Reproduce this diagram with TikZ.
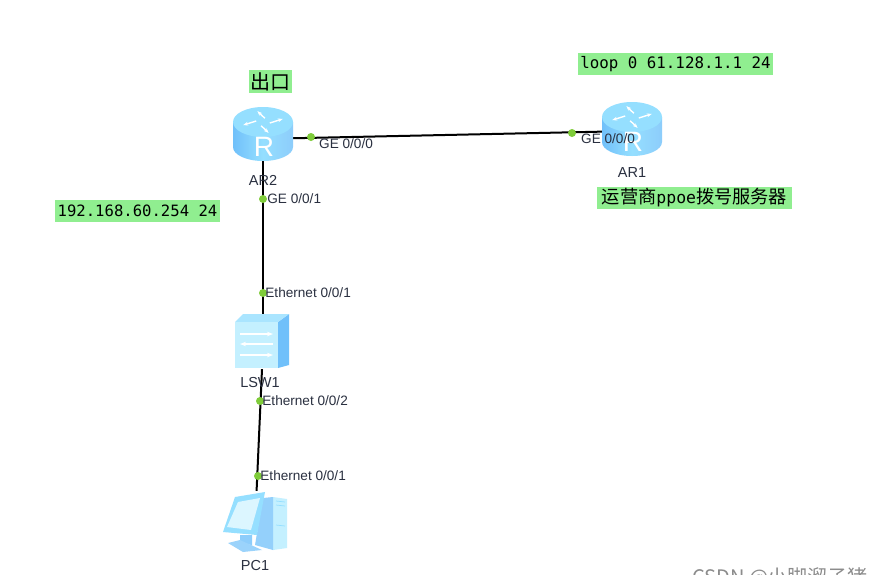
\documentclass[tikz,border=0pt]{standalone}
\usepackage{fontspec}
\usepackage{tikz}
\usepackage{xcolor}
\usetikzlibrary{arrows.meta,positioning}
\setmainfont{Liberation Sans}
\newfontfamily\cjkfont{Noto Sans CJK SC}
\newfontfamily\codefont{DejaVu Sans Mono}

\definecolor{notegreen}{HTML}{90EE90}
\definecolor{portgreen}{HTML}{7FCC3A}
\definecolor{iconlight}{HTML}{C4F0FF}
\definecolor{iconmid}{HTML}{95DFFF}
\definecolor{iconblue}{HTML}{70C0FA}
\definecolor{labelgrey}{HTML}{2A3040}

\tikzset{
    devnode/.style={inner sep=0pt, minimum width=60pt, minimum height=54pt},
    link/.style={black, line width=2pt},
    port/.style={circle, fill=portgreen, inner sep=0pt, minimum size=8pt},
    portlabel/.style={font=\fontsize{13.6}{15}\selectfont, text=labelgrey, inner sep=0pt, anchor=west},
    devlabel/.style={font=\fontsize{14.5}{16}\selectfont, text=labelgrey, inner sep=0pt},
    notebox/.style={fill=notegreen, inner sep=0pt, text=black},
    % Router icon, origin at the centre
    routericon/.pic={
        \path[left color=iconblue, right color=iconblue!80, middle color=iconmid]
            (-30,-12) -- (-30,13) arc[start angle=180, end angle=0, x radius=30, y radius=14]
            -- (30,-12) -- cycle;
        \fill[iconmid] (0,-12) ellipse[x radius=30, y radius=15];
        \foreach \ang in {30,120,210,300}
            \draw[white, line width=1.4pt, -{Stealth[length=5pt]}, shift={(0,-12)}, yscale=0.55, rotate=\ang]
                (5,5) -- (20,5);
        \node[white, font=\fontsize{28}{28}\selectfont, inner sep=0pt] at (1,13) {R};
    },
    % Switch icon
    switchicon/.pic={
        \fill[iconblue] (16,-20) -- (27,-28) -- (27,23) -- (16,26) -- cycle;
        \fill[iconmid!80] (-27,-20) -- (-19,-28) -- (27,-28) -- (16,-20) -- cycle;
        \fill[iconlight] (-27,-20) rectangle (16,26);
        \foreach \yy/\from/\to in {-8/-22/11,2/11/-22,13/-22/11}
            \draw[white, line width=1.6pt, -{Stealth[length=6pt]}] (\from,\yy) -- (\to,\yy);
    },
    % PC icon
    pcicon/.pic={
        \fill[iconlight] (18,-24) -- (32,-22) -- (32,27) -- (18,29) -- cycle;
        \fill[iconblue!75] (8,-23) -- (18,-24) -- (18,29) -- (0,24) -- cycle;
        \fill[iconblue!80] (-15,14) -- (-3,14) -- (-3,24) -- (-15,22) -- cycle;
        \fill[iconblue!70] (-27,22) -- (-15,19) -- (7,29) -- (-12,31) -- cycle;
        \fill[iconmid] (-20,-24) -- (10,-29) -- (2,14) -- (-32,11) -- cycle;
        \fill[iconlight!60] (-17,-19) -- (5,-23) -- (-4,9) -- (-28,6) -- cycle;
        \draw[iconmid, line width=0.7pt] (21,-20) -- (30,-19) (21,-16) -- (30,-15) (21,4) -- (30,5);
    },
}

\begin{document}
\begin{tikzpicture}[x=1pt, y=-1pt]
    \useasboundingbox[fill=white] (0,0) rectangle (873,574);

    % Devices
    \node[devnode] (ar2) at (263,134) {};
    \node[devnode] (ar1) at (632,129) {};
    \node[devnode, minimum width=54pt] (lsw1) at (262,342) {};
    \node[devnode, minimum width=60pt, minimum height=60pt] (pc1) at (255,521) {};

    % Connections
    \draw[link] (ar2.-8) -- (ar1.185);
    \draw[link] (ar2.270) -- (lsw1.north -| ar2.270);
    \draw[link] (lsw1.south) -- (pc1.87);

    % Icons
    \pic at (ar2) {routericon};
    \pic at (ar1) {routericon};
    \pic at (lsw1) {switchicon};
    \pic at (pc1) {pcicon};

    % Device names
    \node[devlabel] (ar2name) at (263,180) {AR2};
    \node[devlabel] (ar1name) at (632,173) {AR1};
    \node[devlabel] (lsw1name) at (260,383) {LSW1};
    \node[devlabel] (pc1name) at (255,565) {PC1};

    % Ports
    \node[port] (ar2e) at (311,137) {};
    \node[port] (ar1w) at (572,133) {};
    \node[port] (ar2s) at (263,199) {};
    \node[port] (lsw1n) at (263,293) {};
    \node[port] (lsw1s) at (260,401) {};
    \node[port] (pc1n) at (258,476) {};

    % Port labels
    \node[portlabel] (ar2elabel) at (319,144) {GE 0/0/0};
    \node[portlabel] (ar1wlabel) at (581,139) {GE 0/0/0};
    \node[portlabel, right=0pt of ar2s] (ar2slabel) {GE 0/0/1};
    \node[portlabel, right=-2pt of lsw1n] (lsw1nlabel) {Ethernet 0/0/1};
    \node[portlabel, right=-2pt of lsw1s] (lsw1slabel) {Ethernet 0/0/2};
    \node[portlabel, right=-2pt of pc1n] (pc1nlabel) {Ethernet 0/0/1};

    % Notes
    \node[notebox, minimum width=43pt, minimum height=23pt, font=\cjkfont\fontsize{20}{20}\selectfont] (exitnote) at (270.5,81.5) {出口};
    \node[notebox, minimum width=195pt, minimum height=22pt, font=\codefont\fontsize{15.8}{17}\selectfont] (loopnote) at (675.5,64) {loop 0 61.128.1.1 24};
    \node[notebox, minimum width=165pt, minimum height=22pt, font=\codefont\fontsize{15.6}{17}\selectfont] (ipnote) at (137.5,211) {192.168.60.254 24};
    \node[notebox, minimum width=195pt, minimum height=22pt, font=\cjkfont\fontsize{18.2}{18}\selectfont] (ispnote) at (694.5,198) {运营商{\codefont\fontsize{16.5}{18}\selectfont ppoe}拨号服务器};

    % Watermark
    \node[text=black!45, font=\cjkfont\fontsize{20}{22}\selectfont, inner sep=0pt, anchor=base west] (mark) at (692,584) {CSDN @小脚溜子猪};
\end{tikzpicture}
\end{document}
